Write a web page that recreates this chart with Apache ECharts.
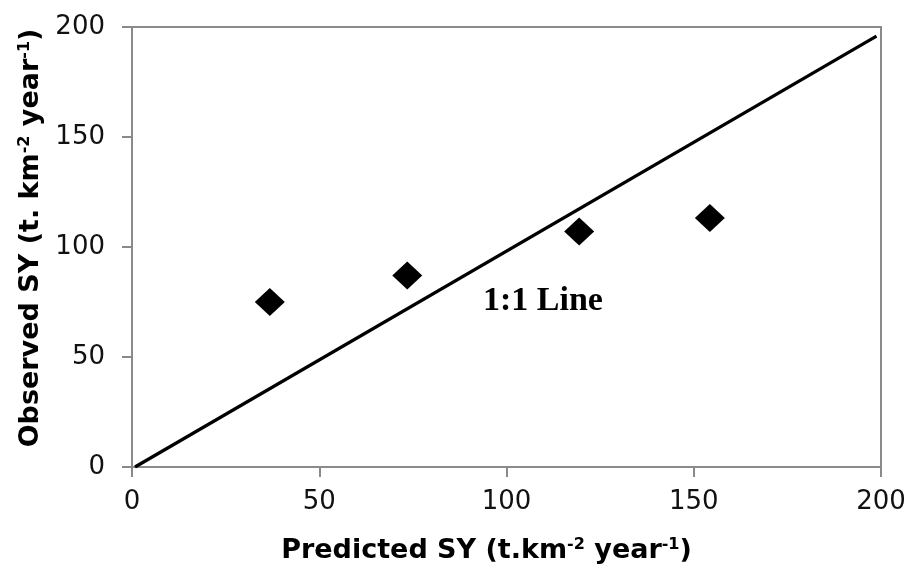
<!DOCTYPE html>
<html>
<head>
<meta charset="utf-8">
<script src="https://cdn.jsdelivr.net/npm/echarts@6/dist/echarts.min.js"></script>
<style>html,body{margin:0;padding:0;background:#fff;}#c{width:910px;height:579px;}</style>
</head>
<body>
<div id="c"></div>
<script>
// Data
const predicted = [36.8, 73.5, 119.4, 154.3];
const observed = [75.0, 87.1, 107.1, 113.2];
const lineX = [0.8, 198.8];
const lineY = [0, 195.8];
const axisMin = 0, axisMax = 200, axisStep = 50;
const xTitle = ['Predicted SY (t.km', '-2', ' year', '-1', ')'];
const yTitle = ['Observed SY (t. km', '-2', ' year', '-1', ')'];
const lineLabel = '1:1 Line';

const points = predicted.map((x, i) => [x, observed[i]]);
const linePts = lineX.map((x, i) => [x, lineY[i]]);

function richTitle(parts) {
  return parts.map((p, i) => (i % 2 === 1 ? '{s|' + p + '}' : '{m|' + p + '}')).join('');
}

const axisFont = 'DejaVu Sans';
const rich = {
  m: { fontFamily: axisFont, fontWeight: 'bold', fontSize: 27, color: '#000' },
  s: { fontFamily: axisFont, fontWeight: 'bold', fontSize: 16, color: '#000', verticalAlign: 'top', padding: [0, 0, 10, 0] }
};

const chart = echarts.init(document.getElementById('c'), null, { renderer: 'canvas' });
const axisCommon = {
  type: 'value', min: axisMin, max: axisMax, interval: axisStep,
  splitLine: { show: false },
  axisLine: { show: true, lineStyle: { color: '#8a8a8a', width: 2 } },
  axisTick: { show: true, inside: false, length: 10, lineStyle: { color: '#8a8a8a', width: 2 } },
  axisLabel: { fontFamily: axisFont, fontSize: 26, color: '#111' },
  nameLocation: 'middle'
};
chart.setOption({
  animation: false,
  backgroundColor: '#fff',
  grid: { left: 132, right: 29, top: 27, bottom: 112, show: true, borderColor: '#8a8a8a', borderWidth: 2 },
  xAxis: Object.assign({}, axisCommon, {
    axisLabel: Object.assign({}, axisCommon.axisLabel, { margin: 22 }),
    name: richTitle(xTitle),
    nameGap: 70,
    nameTextStyle: { rich: rich, padding: [0, 40, 0, 0] }
  }),
  yAxis: Object.assign({}, axisCommon, {
    axisLabel: Object.assign({}, axisCommon.axisLabel, { margin: 27 }),
    name: richTitle(yTitle),
    nameGap: 88,
    nameTextStyle: { rich: rich, padding: [0, 0, 0, 18] }
  }),
  series: [
    {
      type: 'line', data: linePts, symbol: 'none',
      lineStyle: { color: '#000', width: 3.2 }, z: 2
    },
    {
      type: 'scatter', data: points, symbol: 'diamond', symbolSize: [30, 28],
      itemStyle: { color: '#000', opacity: 1 }, z: 3
    }
  ],
  graphic: [{
    type: 'text', left: 483, top: 284,
    style: { text: lineLabel, font: 'bold 34px "Liberation Serif"', fill: '#000' }
  }]
});
</script>
</body>
</html>
